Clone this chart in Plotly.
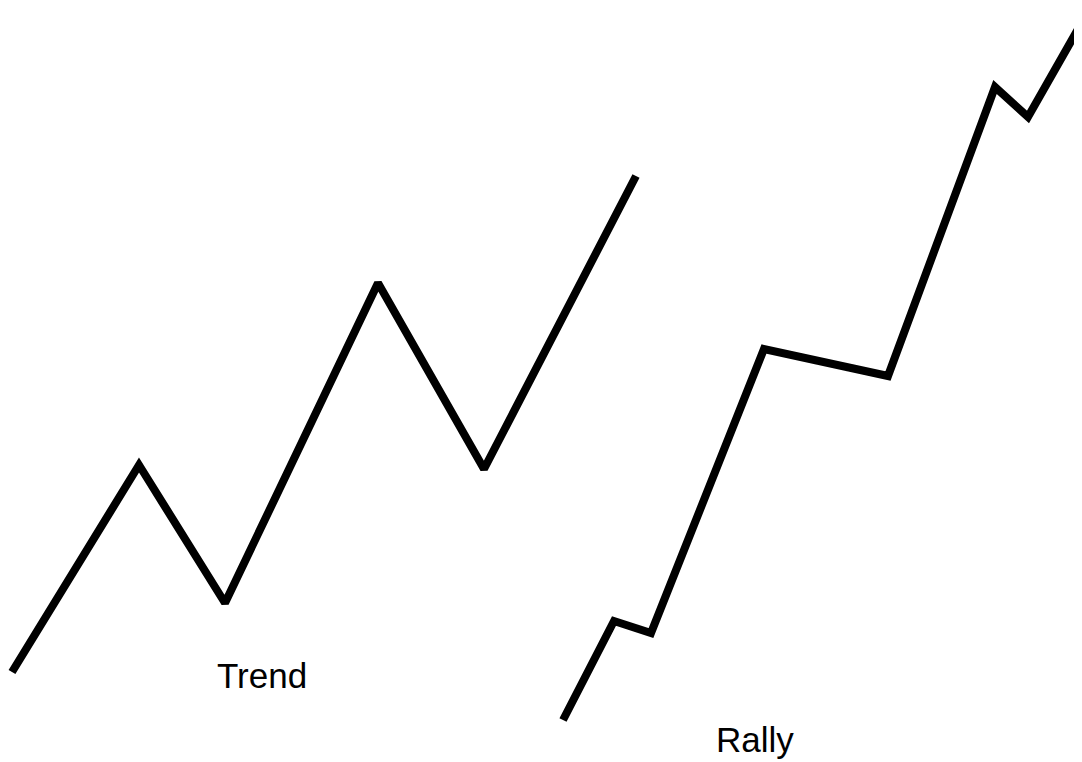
import plotly.graph_objects as go

trend_x = [12, 139, 225, 378, 484, 636]
trend_y = [672, 465, 603, 283, 469, 176]

rally_x = [563, 614, 651, 764, 888, 995, 1028, 1090]
rally_y = [720, 621, 633, 349, 376, 87, 117, 8]

labels = ["Trend", "Rally"]
label_x = [262, 755]
label_y = [697, 761]   # bottom edge of each label box

# the page body has an 8px margin, so the axes start at 8 to keep pixel units
OFF = 8
W, H = 1082, 762

fig = go.Figure()

fig.add_trace(go.Scatter(x=trend_x, y=trend_y, mode="lines",
                         line=dict(color="black", width=8), name="Trend"))
fig.add_trace(go.Scatter(x=rally_x, y=rally_y, mode="lines",
                         line=dict(color="black", width=8), name="Rally"))

for txt, x, y in zip(labels, label_x, label_y):
    fig.add_annotation(x=x, y=y, text=txt, showarrow=False,
                       xanchor="center", yanchor="bottom",
                       font=dict(family="Liberation Sans, Arial", size=35, color="black"))

fig.update_xaxes(range=[OFF, W], visible=False, fixedrange=True)
fig.update_yaxes(range=[H, OFF], visible=False, fixedrange=True)

fig.update_layout(
    width=W - OFF, height=H - OFF,
    margin=dict(l=0, r=0, t=0, b=0),
    showlegend=False,
    paper_bgcolor="white",
    plot_bgcolor="white",
)

fig.write_html("out.html")
